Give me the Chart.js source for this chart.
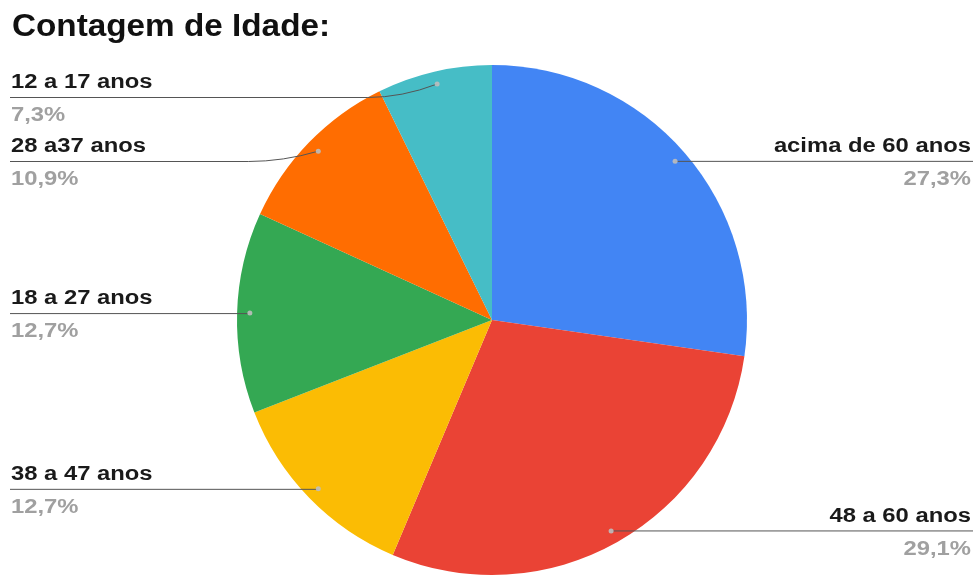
<!DOCTYPE html>
<html>
<head>
<meta charset="utf-8">
<script src="https://cdn.jsdelivr.net/npm/chart.js@4/dist/chart.umd.min.js"></script>
<style>
  html, body { margin: 0; padding: 0; background: #ffffff; }
  #wrap { width: 976px; height: 576px; position: relative; }
</style>
</head>
<body>
<div id="wrap"><canvas id="c" width="976" height="576"></canvas></div>
<script>
const chartTitle = "Contagem de Idade:";
const categories = ["acima de 60 anos", "48 a 60 anos", "38 a 47 anos", "18 a 27 anos", "28 a37 anos", "12 a 17 anos"];
const counts = [15, 16, 7, 7, 6, 4];
const sliceColors = ["#4285F4", "#EA4335", "#FBBC04", "#34A853", "#FF6D01", "#46BDC6"];

const FONT = '"Liberation Sans", Arial, sans-serif';

function pctText(v, total) {
  return (v / total * 100).toFixed(1).replace('.', ',') + '%';
}

function stretchedText(ctx, text, x, y, sx, align) {
  ctx.save();
  ctx.translate(x, y);
  ctx.scale(sx, 1);
  ctx.textAlign = align;
  ctx.fillText(text, 0, 0);
  ctx.restore();
}

const labelPlugin = {
  id: 'leaderLabels',
  afterDraw(chart) {
    const ctx = chart.ctx;
    const meta = chart.getDatasetMeta(0);
    const data = chart.data.datasets[0].data;
    const total = data.reduce((a, b) => a + b, 0);

    // title
    ctx.save();
    ctx.fillStyle = '#111111';
    ctx.font = 'bold 32px ' + FONT;
    ctx.textBaseline = 'alphabetic';
    stretchedText(ctx, chartTitle, 12, 36, 1.04, 'left');
    ctx.restore();

    const items = meta.data.map((arc, i) => {
      const p = arc.getProps(['x', 'y', 'startAngle', 'endAngle', 'outerRadius'], true);
      const mid = (p.startAngle + p.endAngle) / 2;
      const r = p.outerRadius * 0.95;
      return {
        i,
        dx: p.x + Math.cos(mid) * r,
        dy: p.y + Math.sin(mid) * r,
        right: Math.cos(mid) >= 0
      };
    });

    const spacingY = 64;
    const minY = 97;
    ['left', 'right'].forEach(side => {
      const list = items.filter(it => (side === 'right') === it.right).sort((a, b) => a.dy - b.dy);
      let prev = -Infinity;
      list.forEach(it => {
        it.ly = Math.max(it.dy, prev + spacingY, minY);
        prev = it.ly;
      });
    });

    ctx.save();
    items.forEach(it => {
      // leader line
      ctx.strokeStyle = '#555555';
      ctx.lineWidth = 1;
      ctx.beginPath();
      if (it.right) {
        ctx.moveTo(it.dx, it.dy);
        ctx.lineTo(973, it.ly);
      } else {
        ctx.moveTo(10, it.ly + 0.5);
        if (Math.abs(it.ly - it.dy) < 0.5) {
          ctx.lineTo(it.dx, it.dy + 0.5);
        } else {
          const bx = it.dx - 70;
          ctx.lineTo(bx, it.ly + 0.5);
          ctx.quadraticCurveTo(bx + 35, it.ly + 0.5, it.dx, it.dy);
        }
      }
      ctx.stroke();

      // dot
      ctx.fillStyle = 'rgba(190,190,190,0.9)';
      ctx.beginPath();
      ctx.arc(it.dx, it.dy, 2.5, 0, Math.PI * 2);
      ctx.fill();

      // text
      const sx = 1.19;
      ctx.font = 'bold 20px ' + FONT;
      ctx.textBaseline = 'alphabetic';
      const label = chart.data.labels[it.i];
      const pct = pctText(data[it.i], total);
      const tx = it.right ? 971 : 11;
      const align = it.right ? 'right' : 'left';
      ctx.fillStyle = '#1a1a1a';
      stretchedText(ctx, label, tx, it.ly - 9, sx, align);
      ctx.fillStyle = '#a0a0a0';
      stretchedText(ctx, pct, tx, it.ly + 24, sx, align);
    });
    ctx.restore();
  }
};

new Chart(document.getElementById('c'), {
  type: 'pie',
  data: {
    labels: categories,
    datasets: [{
      data: counts,
      backgroundColor: sliceColors,
      borderWidth: 0
    }]
  },
  options: {
    responsive: false,
    animation: false,
    radius: 255,
    layout: { padding: { left: 237, right: 229, top: 65, bottom: 1 } },
    plugins: {
      legend: { display: false },
      tooltip: { enabled: false },
      title: { display: false }
    }
  },
  plugins: [labelPlugin]
});
</script>
</body>
</html>
